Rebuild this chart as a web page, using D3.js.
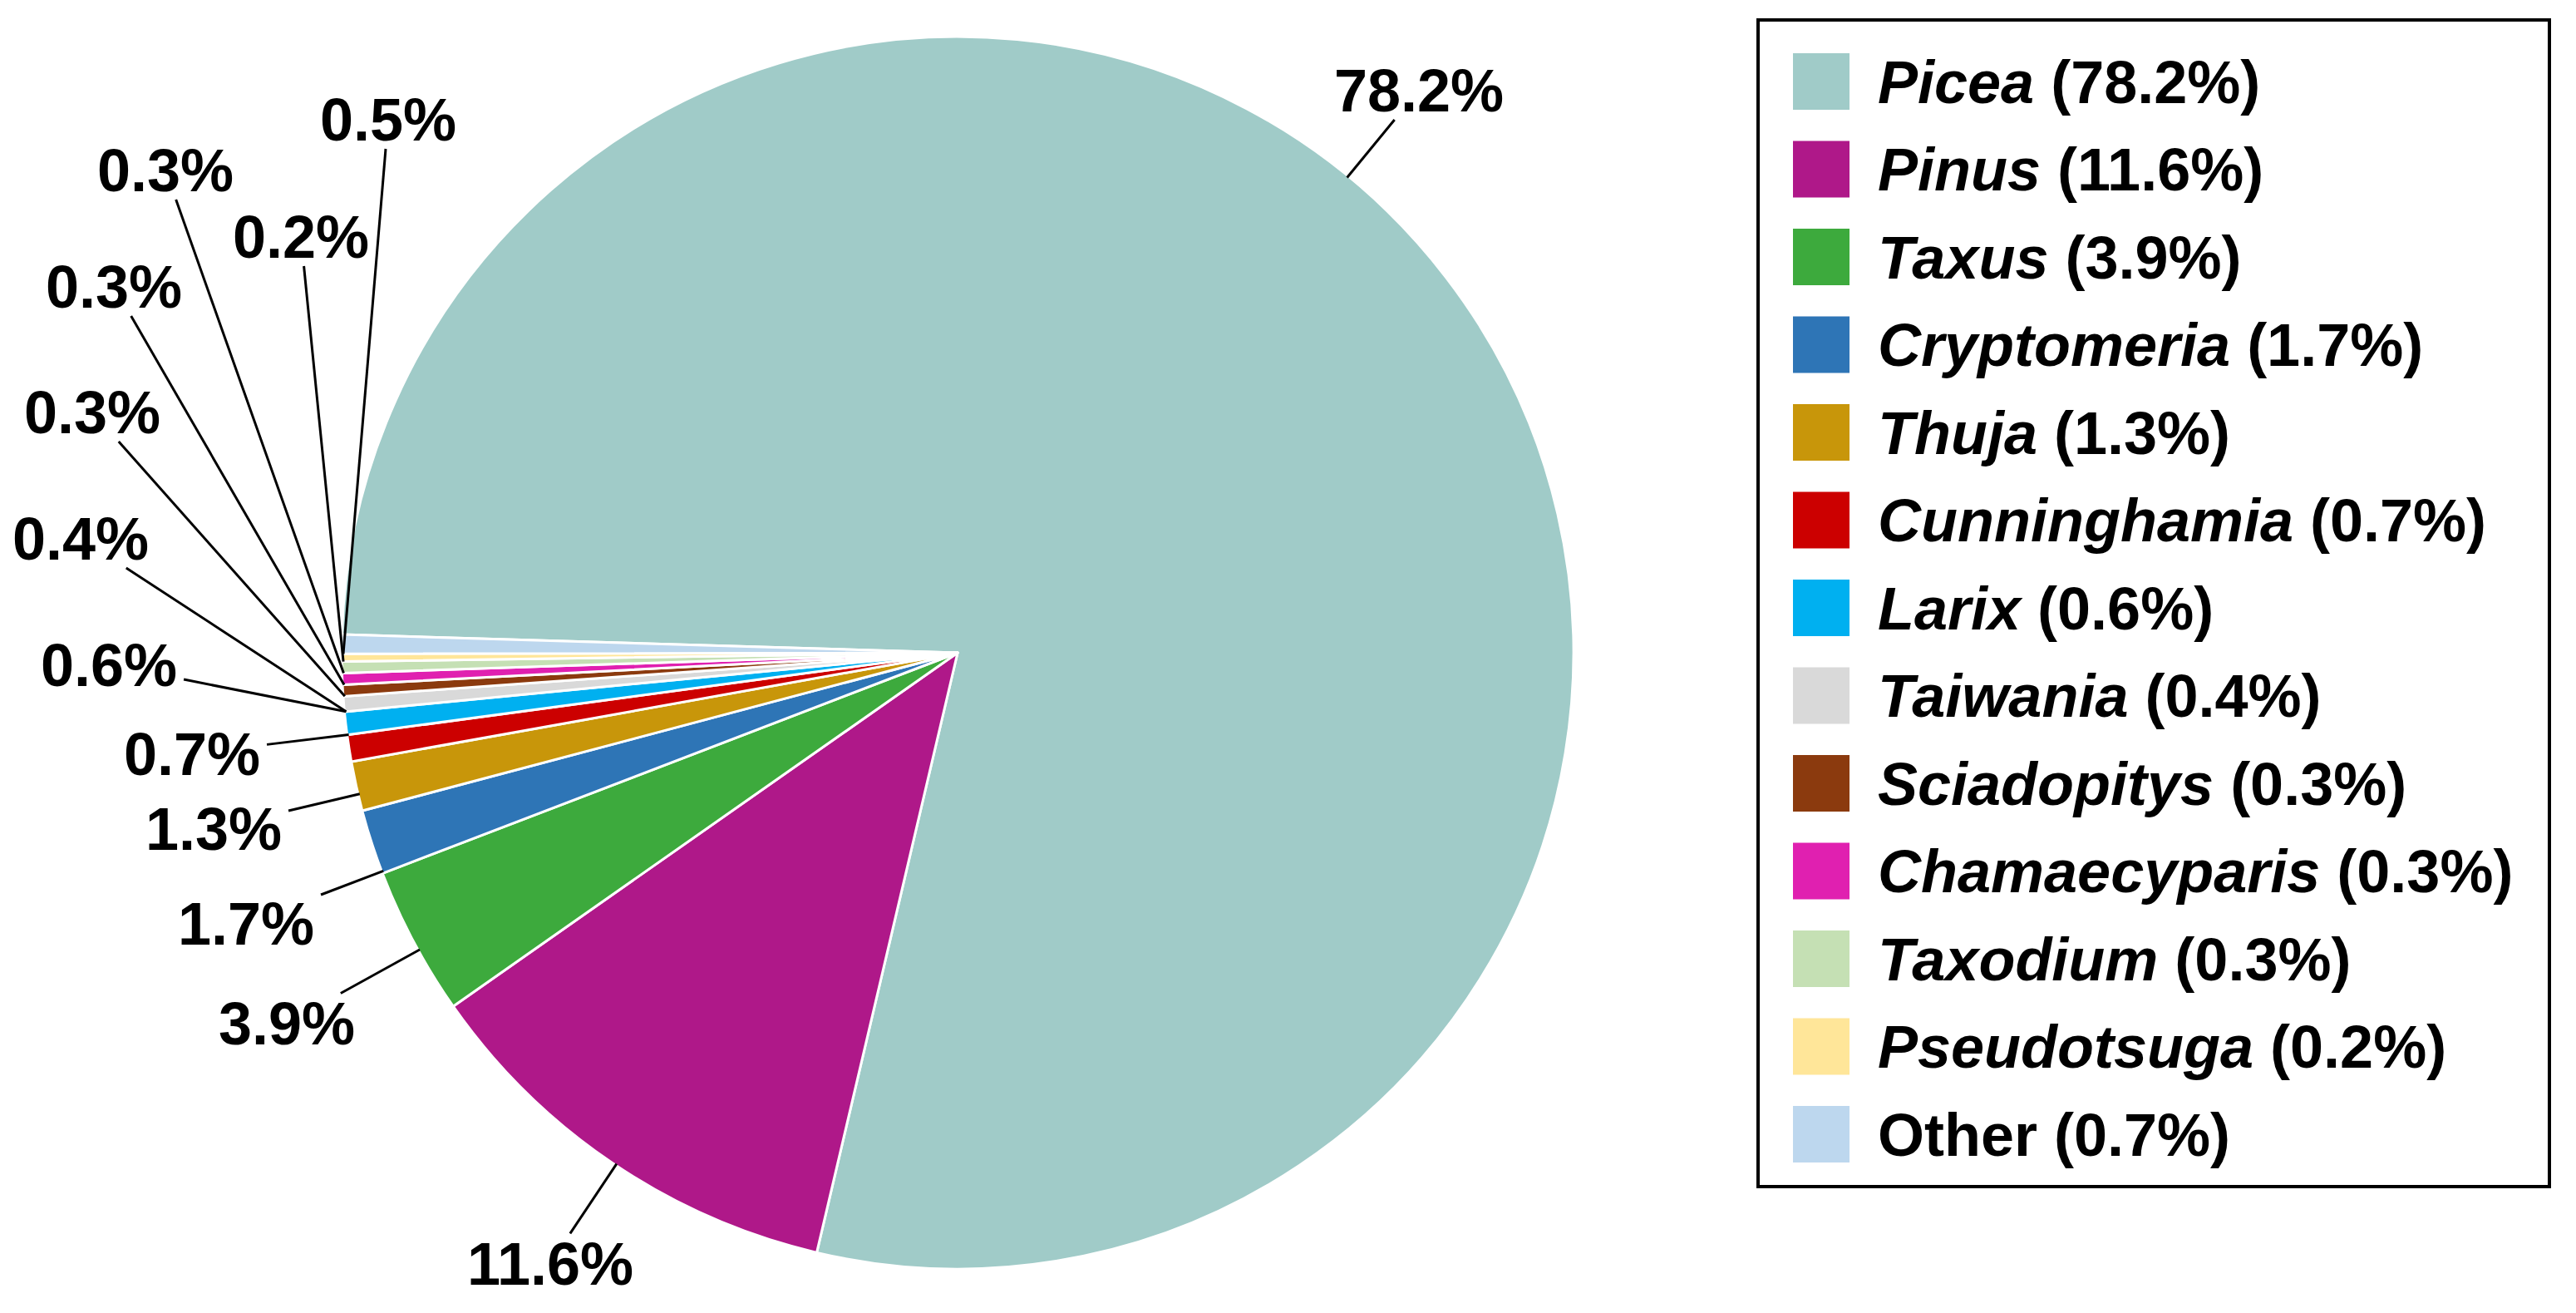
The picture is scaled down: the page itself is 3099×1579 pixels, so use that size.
<!DOCTYPE html>
<html>
<head>
<meta charset="utf-8">
<script src="https://cdn.jsdelivr.net/npm/d3@7"></script>
<style>
  body { margin: 0; background: #fff; }
  text { font-family: "Liberation Sans", Arial, sans-serif; font-weight: bold; fill: #000; }
</style>
</head>
<body>
<div id="chart"></div>
<script>
// genera, pie shares (as labelled on the slices) and shares as printed in the legend
var genera = ["Picea", "Pinus", "Taxus", "Cryptomeria", "Thuja", "Cunninghamia", "Larix",
              "Taiwania", "Sciadopitys", "Chamaecyparis", "Taxodium", "Pseudotsuga", "Other"];
var shares = [78.2, 11.6, 3.9, 1.7, 1.3, 0.7, 0.6, 0.4, 0.3, 0.3, 0.3, 0.2, 0.5];
var legendShares = [78.2, 11.6, 3.9, 1.7, 1.3, 0.7, 0.6, 0.4, 0.3, 0.3, 0.3, 0.2, 0.7];

var colors = ["#A0CBC8", "#AF1889", "#3DAA3D", "#2E75B6", "#C8960A", "#CC0000", "#00B0F0",
              "#D9D9D9", "#8B3A0E", "#E020B0", "#C5E0B4", "#FFE699", "#BDD7EE"];

// where each slice label sits (centre x, baseline y)
var labelPos = [[1707, 134], [662, 1545], [345, 1256], [296, 1136], [257, 1022], [231, 932],
                [131, 825], [97, 673], [111, 521], [137, 370], [199, 230], [362, 310], [467, 169]];

var svgW = 3099;
var svgH = 1579;
var cx = 1152, cy = 785, R = 741;
var fontSize = 72;
var capH = fontSize * 0.716;

var svg = d3.select("#chart")
            .append("svg")
            .attr("width", svgW)
            .attr("height", svgH);

var startA = -88.3 * Math.PI / 180;
var pie = d3.pie()
            .sort(null)
            .value(d => d)
            .startAngle(startA)
            .endAngle(startA + 2 * Math.PI);
var arcs = pie(shares);

var arc = d3.arc().innerRadius(0).outerRadius(R);

var g = svg.append("g")
           .attr("transform", `translate(${cx}, ${cy})`);

g.selectAll("path")
 .data(arcs)
 .enter()
 .append("path")
 .attr("d", arc)
 .attr("fill", (d, i) => colors[i])
 .attr("stroke", "#fff")
 .attr("stroke-width", 3)
 .attr("stroke-linejoin", "round");

var fmt = d3.format(".1f");

var labels = svg.append("g").selectAll("text")
                .data(arcs)
                .enter()
                .append("text")
                .attr("x", (d, i) => labelPos[i][0])
                .attr("y", (d, i) => labelPos[i][1])
                .attr("text-anchor", "middle")
                .attr("font-size", fontSize)
                .text(d => fmt(d.value) + "%");

// leader lines: from the label box edge to the nearest point of the slice's arc
var leaders = svg.append("g");
labels.each(function(d, i) {
    var w = this.getComputedTextLength();
    var lx = labelPos[i][0], ly = labelPos[i][1] - capH / 2;
    var a = Math.atan2(lx - cx, -(ly - cy));
    while (a < startA) a += 2 * Math.PI;
    while (a >= startA + 2 * Math.PI) a -= 2 * Math.PI;
    a = Math.max(d.startAngle, Math.min(d.endAngle, a));
    var px = cx + (R - 2) * Math.sin(a), py = cy - (R - 2) * Math.cos(a);
    var hw = w / 2 + 8, hh = capH / 2 + 10;
    var dx = px - lx, dy = py - ly;
    var t = Math.min(hw / Math.abs(dx || 1e-9), hh / Math.abs(dy || 1e-9));
    if (t >= 1) return;
    leaders.append("line")
           .attr("x1", lx + dx * t)
           .attr("y1", ly + dy * t)
           .attr("x2", px)
           .attr("y2", py)
           .attr("stroke", "#000")
           .attr("stroke-width", 3);
});

// legend
var legX = 2115, legY = 24, legW = 952, legH = 1403;
var rowStart = 98, rowStep = 105.5, sw = 68;

var legend = svg.append("g");
legend.append("rect")
      .attr("x", legX)
      .attr("y", legY)
      .attr("width", legW)
      .attr("height", legH)
      .attr("fill", "#fff")
      .attr("stroke", "#000")
      .attr("stroke-width", 4);

var rows = legend.selectAll("g.row")
                 .data(genera)
                 .enter()
                 .append("g")
                 .attr("class", "row")
                 .attr("transform", (d, i) => `translate(0, ${rowStart + i * rowStep})`);

rows.append("rect")
    .attr("x", 2157)
    .attr("y", -sw / 2)
    .attr("width", sw)
    .attr("height", sw)
    .attr("fill", (d, i) => colors[i]);

var rowText = rows.append("text")
                  .attr("x", 2259)
                  .attr("y", capH / 2)
                  .attr("font-size", fontSize);
rowText.append("tspan")
       .attr("font-style", d => d == "Other" ? "normal" : "italic")
       .text(d => d);
rowText.append("tspan")
       .text((d, i) => " (" + fmt(legendShares[i]) + "%)");
</script>
</body>
</html>
